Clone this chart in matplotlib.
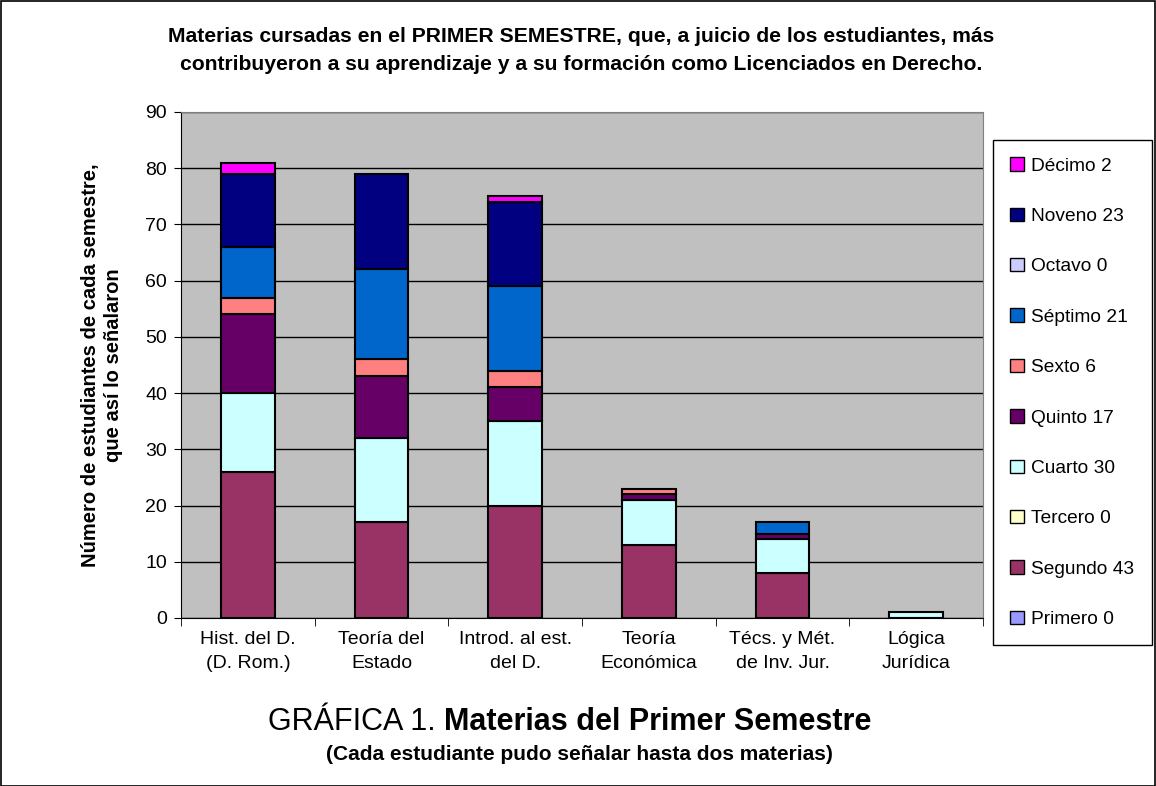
import matplotlib
matplotlib.use("Agg")
import matplotlib.pyplot as plt
from matplotlib.patches import Patch, Rectangle
import numpy as np

plt.rcParams['font.family'] = ['Liberation Sans', 'DejaVu Sans']

categories = ["Hist. del D.\n(D. Rom.)", "Teoría del\nEstado", "Introd. al est.\ndel D.",
              "Teoría\nEconómica", "Técs. y Mét.\nde Inv. Jur.", "Lógica\nJurídica"]

series_names = ["Primero 0", "Segundo 43", "Tercero 0", "Cuarto 30", "Quinto 17",
                "Sexto 6", "Séptimo 21", "Octavo 0", "Noveno 23", "Décimo 2"]
series_colors = ["#9999FF", "#993366", "#FFFFCC", "#CCFFFF", "#660066",
                 "#FF8080", "#0066CC", "#CCCCFF", "#000080", "#FF00FF"]

primero = [0, 0, 0, 0, 0, 0]
segundo = [26, 17, 20, 13, 8, 0]
tercero = [0, 0, 0, 0, 0, 0]
cuarto = [14, 15, 15, 8, 6, 1]
quinto = [14, 11, 6, 1, 1, 0]
sexto = [3, 3, 3, 1, 0, 0]
septimo = [9, 16, 15, 0, 2, 0]
octavo = [0, 0, 0, 0, 0, 0]
noveno = [13, 17, 15, 0, 0, 0]
decimo = [2, 0, 1, 0, 0, 0]

series = [primero, segundo, tercero, cuarto, quinto, sexto, septimo, octavo, noveno, decimo]

W, H = 1156, 786
fig = plt.figure(figsize=(W / 100, H / 100), dpi=100)
fig.patch.set_facecolor("white")
fig.add_artist(Rectangle((0.5 / W, 0.5 / H), 1 - 1.5 / W, 1 - 1.5 / H, transform=fig.transFigure,
                         fill=False, edgecolor="black", linewidth=1.2))

ax = fig.add_axes([181 / W, 1 - 618 / H, (983 - 181) / W, (618 - 112) / H])
ax.set_facecolor("#C0C0C0")

x = np.arange(len(categories))
bottom = np.zeros(len(categories))
for vals, col in zip(series, series_colors):
    v = np.array(vals, dtype=float)
    mask = v > 0
    ax.bar(x[mask], v[mask], bottom=bottom[mask], width=0.4, color=col,
           edgecolor="black", linewidth=1.5, zorder=3)
    bottom += v

ax.set_xlim(-0.5, len(categories) - 0.5)
ax.set_ylim(0, 90)
ax.set_yticks(np.arange(0, 91, 10))
ax.yaxis.grid(True, color="black", linewidth=1.0, zorder=0)
ax.set_axisbelow(True)
ax.tick_params(axis='y', direction='out', length=5, labelsize=14, pad=5)
ax.set_xticks(x)
ax.set_xticklabels(categories, fontsize=14, linespacing=1.55)
ax.tick_params(axis='x', length=0, pad=9)
ax.set_xticks(np.arange(-0.5, len(categories), 1), minor=True)
ax.tick_params(axis='x', which='minor', direction='out', length=6)
for s in ["top", "right"]:
    ax.spines[s].set_color("#808080")
for s in ["left", "bottom"]:
    ax.spines[s].set_color("black")

ax.set_ylabel("Número de estudiantes de cada semestre,\nque así lo señalaron", fontsize=14.5,
              fontweight="bold", linespacing=1.3, labelpad=16)

handles = [Patch(facecolor=c, edgecolor="black", linewidth=1.0) for c in series_colors]
leg = fig.legend(handles[::-1], series_names[::-1], loc="upper left",
                 bbox_to_anchor=(993 / W, 1 - 140 / H), fontsize=13.8,
                 frameon=True, fancybox=False, edgecolor="black", framealpha=1,
                 handlelength=0.7, handleheight=0.7, handletextpad=0.4,
                 labelspacing=1.72, borderpad=0.9, borderaxespad=0)
leg.get_frame().set_linewidth(1.0)

fig.text(0.5 + 3 / W, 1 - 36 / H, "Materias cursadas en el PRIMER SEMESTRE, que, a juicio de los estudiantes, más",
         ha="center", va="center", fontsize=15.2, fontweight="bold")
fig.text(0.5 + 3 / W, 1 - 65 / H, "contribuyeron a su aprendizaje y a su formación como Licenciados en Derecho.",
         ha="center", va="center", fontsize=15.2, fontweight="bold")

# bottom caption with mixed weight
fig.canvas.draw()
renderer = fig.canvas.get_renderer()
t1 = fig.text(0, 1 - 722 / H, "GRÁFICA 1. ", ha="left", va="center", fontsize=22)
t2 = fig.text(0, 1 - 722 / H, "Materias del Primer Semestre", ha="left", va="center",
              fontsize=22, fontweight="bold")
w1 = t1.get_window_extent(renderer).width
w2 = t2.get_window_extent(renderer).width
start = (W / 2 - 8 - (w1 + w2) / 2)
t1.set_x(start / W)
t2.set_x((start + w1) / W)
fig.text(0.5 + 1 / W, 1 - 755 / H, "(Cada estudiante pudo señalar hasta dos materias)",
         ha="center", va="center", fontsize=15, fontweight="bold")

fig.savefig("out.png", dpi=100, facecolor="white")
